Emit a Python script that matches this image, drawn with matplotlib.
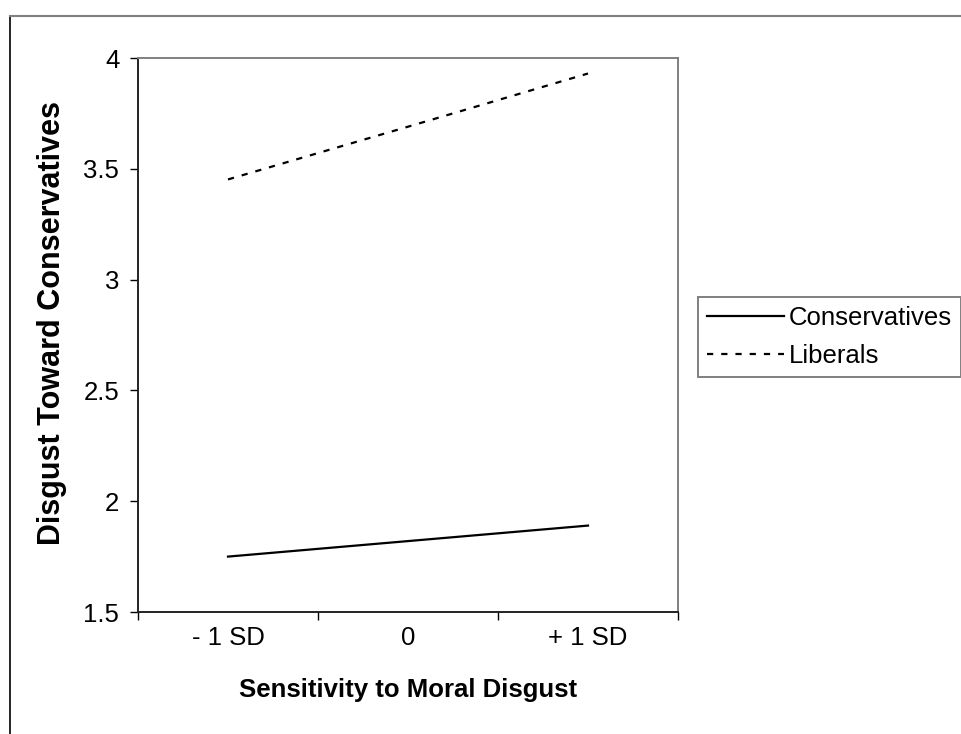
import numpy as np
import matplotlib.pyplot as plt
from matplotlib.lines import Line2D

plt.rcParams['font.family'] = ['Liberation Sans', 'DejaVu Sans']

categories = ['- 1 SD', '0', '+ 1 SD']
conservatives = [1.75, 1.82, 1.89]
liberals = [3.452, 3.69, 3.93]

W, H = 961, 734
fig = plt.figure(figsize=(W / 100, H / 100), dpi=100)

# plot area in pixels: left 138, right 678, top 58, bottom 612
ax = fig.add_axes([138 / W, 1 - 612 / H, (678 - 138) / W, (612 - 58) / H])

x = np.arange(len(categories))
ax.plot(x, conservatives, color='k', lw=1.6, label='Conservatives')
ax.plot(x, liberals, color='k', lw=1.6, dashes=(2.8, 3.6), label='Liberals')

ax.set_xlim(-0.5, 2.5)
ax.set_ylim(1.5, 4)
ax.set_yticks([1.5, 2, 2.5, 3, 3.5, 4])
ax.set_yticklabels(['1.5', '2', '2.5', '3', '3.5', '4'])
ax.set_xticks([-0.5, 0.5, 1.5, 2.5])
ax.set_xticklabels([])
ax.set_xticks(x, minor=True)
ax.set_xticklabels(categories, minor=True)
ax.tick_params(axis='x', which='minor', length=0, pad=10, labelsize=18.5)
ax.tick_params(axis='x', which='major', length=5.5, width=1, direction='out')
ax.tick_params(axis='y', length=5.5, width=1, direction='out', labelsize=18.5, pad=8)

for s in ['top', 'right']:
    ax.spines[s].set_color('#808080')
    ax.spines[s].set_linewidth(1.4)
for s in ['left', 'bottom']:
    ax.spines[s].set_color('#222222')
    ax.spines[s].set_linewidth(1.4)

ax.set_xlabel('Sensitivity to Moral Disgust', fontsize=18.5, fontweight='bold', labelpad=20)
ax.set_ylabel('Disgust Toward Conservatives', fontsize=22, fontweight='bold')
ax.yaxis.set_label_coords((67 - 138) / (678 - 138), (612 - 323) / (612 - 58))

leg = fig.legend(loc='upper left', bbox_to_anchor=(698 / W, 1 - 297 / H),
                 fontsize=18.5, handlelength=3.0, handletextpad=0.2,
                 borderpad=0.35, labelspacing=0.55, borderaxespad=0,
                 fancybox=False, frameon=True, framealpha=1)
leg.get_frame().set_edgecolor('#808080')
leg.get_frame().set_linewidth(1.4)

# outer chart frame
fig.add_artist(Line2D([10 / W, 10 / W], [0, 1 - 16 / H], color='k', lw=1.2))
fig.add_artist(Line2D([10 / W, 1], [1 - 16 / H, 1 - 16 / H], color='#808080', lw=1.5))

fig.savefig('out.png', dpi=100)
